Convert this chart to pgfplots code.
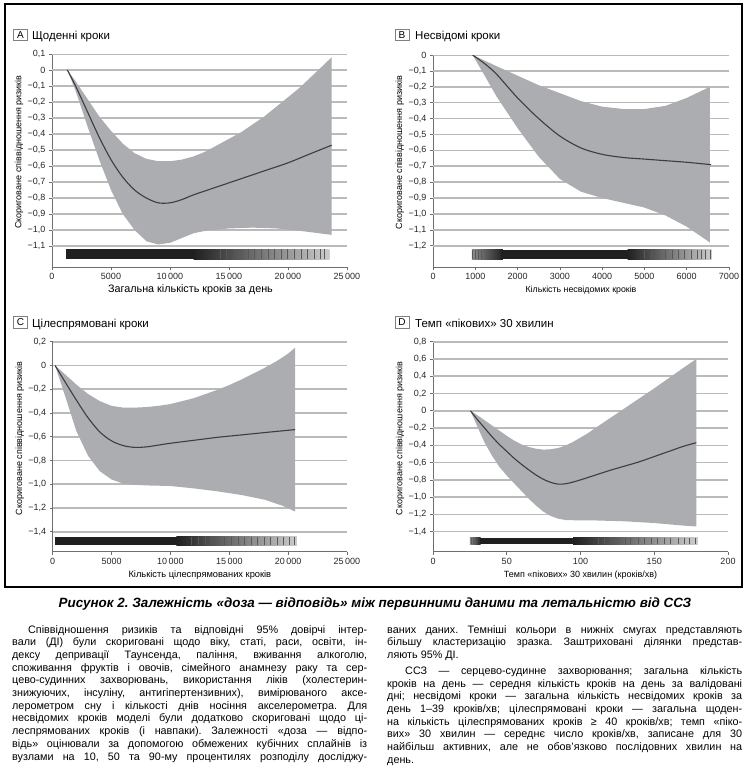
\documentclass[border=0pt]{standalone}
\usepackage{fontspec}
\setmainfont{Liberation Sans}
\usepackage{pgfplots}
\pgfplotsset{compat=1.18}

\definecolor{band}{RGB}{172,173,177}
\definecolor{cline}{RGB}{60,60,66}
\definecolor{axc}{RGB}{110,110,110}
\definecolor{rugdark}{RGB}{32,32,32}
\definecolor{rugmid}{RGB}{140,140,140}
\definecolor{ruglight}{RGB}{205,205,205}

\pgfplotsset{
  panel/.style={
    scale only axis,
    axis x line*=bottom, axis y line*=left,
    axis line style={axc, line width=0.8pt},
    tick style={axc, line width=0.6pt},
    major tick length=3pt, tick align=outside,
    scaled x ticks=false, scaled y ticks=false,
    tick label style={font=\fontsize{9}{10}\selectfont, text=black!85},
    label style={text=black!85},
    every axis y label/.style={at={(axis description cs:-0.112,0.54)}, rotate=90, anchor=center,
      font=\fontsize{9}{10}\selectfont},
    every axis x label/.style={at={(axis description cs:0.5,0)}, yshift=-23pt, anchor=center},
    ylabel={Скориговане співвідношення ризиків},
  },
  hgrid/.style={black!27, line width=1.6pt, mark=none, forget plot, unbounded coords=jump},
  ciband/.style={fill=band, draw=none, forget plot},
  rugfill/.style={draw=none, forget plot},
  stripes/.style={black!65, line width=0.5pt, forget plot, unbounded coords=jump},
}

\newcommand{\jl}[1]{\makebox[355pt][s]{#1}}

\begin{document}
\frenchspacing
\begin{tikzpicture}
\path[use as bounding box] (0,0) rectangle (750pt,-782pt);
\draw[line width=1.3pt] (5pt,-4pt) rectangle (742pt,-587pt);

% ---------------- A ----------------
\node[draw=gray, line width=0.6pt, minimum width=14pt, minimum height=11.5pt, inner sep=0pt,
  font=\fontsize{10}{10}\selectfont] at (20.5pt,-35pt) {A};
\node[anchor=base west, inner sep=0pt, font=\fontsize{11.5}{12}\selectfont] at (32pt,-39.5pt) {Щоденні кроки};
\begin{axis}[panel, at={(52pt,-267pt)}, anchor=south west, width=295pt, height=213pt,
  xmin=0, xmax=25000, ymin=-1.231, ymax=0.1,
  xtick={0,5000,10000,15000,20000,25000},
  xticklabels={0,5000,10\,000,15\,000,20\,000,25\,000},
  ytick={-1.1,-1,-0.9,-0.8,-0.7,-0.6,-0.5,-0.4,-0.3,-0.2,-0.1,0,0.1},
  yticklabels={{−1,1},{−1,0},{−0,9},{−0,8},{−0,7},{−0,6},{−0,5},{−0,4},{−0,3},{−0,2},{−0,1},{0},{0,1}},
  xlabel style={font=\fontsize{10.8}{12}\selectfont, xshift=-9pt},
  xlabel={Загальна кількість кроків за день}]
\addplot[hgrid] coordinates {
(0,0.1)(25000,0.1)(25000,nan) (0,0)(25000,0)(25000,nan) (0,-0.1)(25000,-0.1)(25000,nan)
(0,-0.2)(25000,-0.2)(25000,nan) (0,-0.3)(25000,-0.3)(25000,nan) (0,-0.4)(25000,-0.4)(25000,nan)
(0,-0.5)(25000,-0.5)(25000,nan) (0,-0.6)(25000,-0.6)(25000,nan) (0,-0.7)(25000,-0.7)(25000,nan)
(0,-0.8)(25000,-0.8)(25000,nan) (0,-0.9)(25000,-0.9)(25000,nan) (0,-1.0)(25000,-1.0)(25000,nan)
(0,-1.1)(25000,-1.1)};
% 95% CI band: upper bound, then lower bound reversed
\addplot[ciband] coordinates {
(1300,0)(2000,-0.07)(3000,-0.18)(4000,-0.29)(5000,-0.38)(6000,-0.46)(7000,-0.52)(8000,-0.555)
(9000,-0.57)(10000,-0.57)(11000,-0.56)(12000,-0.54)(13000,-0.51)(14000,-0.47)(15000,-0.43)
(16000,-0.39)(17000,-0.34)(18000,-0.29)(19000,-0.23)(20000,-0.17)(21000,-0.11)(22000,-0.04)
(23000,0.03)(23700,0.08)
(23700,-1.03)(21000,-1.005)(19000,-0.99)(17000,-0.985)(15000,-0.99)(13000,-1.005)(12000,-1.02)
(11000,-1.05)(10000,-1.08)(9000,-1.09)(8000,-1.07)(7000,-1.00)(6000,-0.90)(5000,-0.75)
(4000,-0.56)(3000,-0.35)(2000,-0.13)};
\addplot[cline, line width=1.1pt, smooth] coordinates {
(1300,0)(2000,-0.10)(3000,-0.26)(4000,-0.42)(5000,-0.56)(6000,-0.67)(7000,-0.75)(8000,-0.80)
(9000,-0.83)(10000,-0.83)(11000,-0.81)(12000,-0.78)(14000,-0.73)(16000,-0.68)(18000,-0.63)
(20000,-0.58)(22000,-0.52)(23700,-0.47)};
% rug
\addplot[rugfill, fill=rugdark] coordinates {(1200,-1.181)(12100,-1.181)(12100,-1.119)(1200,-1.119)};
\addplot[rugfill, left color=rugdark, right color=ruglight] coordinates {(12000,-1.181)(23500,-1.181)(23500,-1.119)(12000,-1.119)};
\addplot[stripes] coordinates {
(14300,-1.181)(14300,-1.119)(14300,nan) (14800,-1.181)(14800,-1.119)(14800,nan)
(15500,-1.181)(15500,-1.119)(15500,nan) (16000,-1.181)(16000,-1.119)(16000,nan)
(16600,-1.181)(16600,-1.119)(16600,nan) (17100,-1.181)(17100,-1.119)(17100,nan)
(17700,-1.181)(17700,-1.119)(17700,nan) (18300,-1.181)(18300,-1.119)(18300,nan)
(18800,-1.181)(18800,-1.119)(18800,nan) (19400,-1.181)(19400,-1.119)(19400,nan)
(19900,-1.181)(19900,-1.119)(19900,nan) (20500,-1.181)(20500,-1.119)(20500,nan)
(21100,-1.181)(21100,-1.119)(21100,nan) (21600,-1.181)(21600,-1.119)(21600,nan)
(22200,-1.181)(22200,-1.119)(22200,nan) (22700,-1.181)(22700,-1.119)(22700,nan)
(23100,-1.181)(23100,-1.119)};
\end{axis}

% ---------------- B ----------------
\node[draw=gray, line width=0.6pt, minimum width=14pt, minimum height=11.5pt, inner sep=0pt,
  font=\fontsize{10}{10}\selectfont] at (402pt,-35pt) {B};
\node[anchor=base west, inner sep=0pt, font=\fontsize{11.5}{12}\selectfont] at (415pt,-39.5pt) {Несвідомі кроки};
\begin{axis}[panel, at={(433pt,-267pt)}, anchor=south west, width=296pt, height=212pt,
  xmin=0, xmax=7000, ymin=-1.334, ymax=0,
  xtick={0,1000,2000,3000,4000,5000,6000,7000},
  xticklabels={0,1000,2000,3000,4000,5000,6000,7000},
  ytick={-1.2,-1.1,-1,-0.9,-0.8,-0.7,-0.6,-0.5,-0.4,-0.3,-0.2,-0.1,0},
  yticklabels={{−1,2},{−1,1},{−1,0},{−0,9},{−0,8},{−0,7},{−0,6},{−0,5},{−0,4},{−0,3},{−0,2},{−0,1},{0}},
  xlabel style={font=\fontsize{8.8}{10}\selectfont},
  xlabel={Кількість несвідомих кроків}]
\addplot[hgrid] coordinates {
(0,0)(7000,0)(7000,nan) (0,-0.1)(7000,-0.1)(7000,nan) (0,-0.2)(7000,-0.2)(7000,nan)
(0,-0.3)(7000,-0.3)(7000,nan) (0,-0.4)(7000,-0.4)(7000,nan) (0,-0.5)(7000,-0.5)(7000,nan)
(0,-0.6)(7000,-0.6)(7000,nan) (0,-0.7)(7000,-0.7)(7000,nan) (0,-0.8)(7000,-0.8)(7000,nan)
(0,-0.9)(7000,-0.9)(7000,nan) (0,-1.0)(7000,-1.0)(7000,nan) (0,-1.1)(7000,-1.1)(7000,nan)
(0,-1.2)(7000,-1.2)};
\addplot[ciband] coordinates {
(937,0)(1500,-0.07)(2000,-0.13)(2500,-0.19)(3000,-0.24)(3500,-0.29)(4000,-0.325)(4500,-0.34)
(5000,-0.34)(5500,-0.32)(6000,-0.27)(6550,-0.20)
(6550,-1.18)(6000,-1.08)(5500,-1.01)(5000,-0.96)(4500,-0.93)(4000,-0.90)(3500,-0.86)
(3000,-0.78)(2500,-0.64)(2000,-0.46)(1500,-0.26)(1200,-0.12)};
\addplot[cline, line width=1.1pt, smooth] coordinates {
(937,0)(1200,-0.05)(1500,-0.12)(2000,-0.27)(2500,-0.40)(3000,-0.51)(3500,-0.585)(4000,-0.625)
(4500,-0.645)(5000,-0.655)(5500,-0.665)(6000,-0.675)(6575,-0.69)};
% rug
\addplot[rugfill, left color=rugmid, right color=rugdark] coordinates {(921,-1.285)(1650,-1.285)(1650,-1.226)(921,-1.226)};
\addplot[rugfill, fill=rugdark] coordinates {(1600,-1.285)(4650,-1.285)(4650,-1.226)(1600,-1.226)};
\addplot[rugfill, left color=rugdark, right color=ruglight] coordinates {(4600,-1.285)(6590,-1.285)(6590,-1.226)(4600,-1.226)};
\addplot[stripes] coordinates {
(935,-1.285)(935,-1.226)(935,nan) (990,-1.285)(990,-1.226)(990,nan)
(1060,-1.285)(1060,-1.226)(1060,nan) (1150,-1.285)(1150,-1.226)(1150,nan)
(5000,-1.285)(5000,-1.226)(5000,nan) (5150,-1.285)(5150,-1.226)(5150,nan)
(5300,-1.285)(5300,-1.226)(5300,nan) (5500,-1.285)(5500,-1.226)(5500,nan)
(5650,-1.285)(5650,-1.226)(5650,nan) (5800,-1.285)(5800,-1.226)(5800,nan)
(5950,-1.285)(5950,-1.226)(5950,nan) (6100,-1.285)(6100,-1.226)(6100,nan)
(6250,-1.285)(6250,-1.226)(6250,nan) (6350,-1.285)(6350,-1.226)(6350,nan)
(6450,-1.285)(6450,-1.226)(6450,nan) (6550,-1.285)(6550,-1.226)};
\end{axis}

% ---------------- C ----------------
\node[draw=gray, line width=0.6pt, minimum width=14pt, minimum height=11.5pt, inner sep=0pt,
  font=\fontsize{10}{10}\selectfont] at (20.5pt,-322.5pt) {C};
\node[anchor=base west, inner sep=0pt, font=\fontsize{11.5}{12}\selectfont] at (32pt,-327pt) {Цілеспрямовані кроки};
\begin{axis}[panel, at={(52.7pt,-551.7pt)}, anchor=south west, width=294.3pt, height=210pt,
  xmin=0, xmax=25000, ymin=-1.568, ymax=0.2,
  xtick={0,5000,10000,15000,20000,25000},
  xticklabels={0,5000,10\,000,15\,000,20\,000,25\,000},
  ytick={-1.4,-1.2,-1,-0.8,-0.6,-0.4,-0.2,0,0.2},
  yticklabels={{−1,4},{−1,2},{−1,0},{−0,8},{−0,6},{−0,4},{−0,2},{0},{0,2}},
  xlabel style={font=\fontsize{9.3}{11}\selectfont},
  xlabel={Кількість цілеспрямованих кроків}]
\addplot[hgrid] coordinates {
(0,0.2)(25000,0.2)(25000,nan) (0,0)(25000,0)(25000,nan) (0,-0.2)(25000,-0.2)(25000,nan)
(0,-0.4)(25000,-0.4)(25000,nan) (0,-0.6)(25000,-0.6)(25000,nan) (0,-0.8)(25000,-0.8)(25000,nan)
(0,-1.0)(25000,-1.0)(25000,nan) (0,-1.2)(25000,-1.2)(25000,nan) (0,-1.4)(25000,-1.4)};
\addplot[ciband] coordinates {
(200,0)(1000,-0.07)(2000,-0.16)(3000,-0.24)(4000,-0.30)(5000,-0.34)(6000,-0.355)(7000,-0.355)
(8000,-0.35)(9000,-0.34)(10000,-0.325)(11000,-0.30)(12000,-0.275)(13000,-0.24)(14000,-0.205)
(15000,-0.165)(16000,-0.12)(17000,-0.07)(18000,-0.02)(19000,0.035)(20000,0.10)(20600,0.15)
(20600,-1.23)(19500,-1.18)(18000,-1.13)(16000,-1.09)(14000,-1.06)(12000,-1.035)(10000,-1.015)
(8000,-1.01)(7000,-1.005)(6000,-0.995)(5000,-0.96)(4000,-0.89)(3000,-0.76)(2000,-0.55)
(1000,-0.24)};
\addplot[cline, line width=1.1pt, smooth] coordinates {
(200,0)(1000,-0.13)(2000,-0.29)(3000,-0.44)(4000,-0.56)(5000,-0.635)(6000,-0.675)(7000,-0.69)
(8000,-0.685)(9000,-0.67)(10000,-0.655)(12000,-0.63)(14000,-0.605)(16000,-0.585)(18000,-0.565)
(20600,-0.54)};
% rug
\addplot[rugfill, fill=rugdark] coordinates {(200,-1.512)(10600,-1.512)(10600,-1.442)(200,-1.442)};
\addplot[rugfill, left color=rugdark, right color=ruglight] coordinates {(10500,-1.512)(20750,-1.512)(20750,-1.442)(10500,-1.442)};
\addplot[stripes] coordinates {
(11800,-1.512)(11800,-1.442)(11800,nan) (12400,-1.512)(12400,-1.442)(12400,nan)
(13000,-1.512)(13000,-1.442)(13000,nan) (13500,-1.512)(13500,-1.442)(13500,nan)
(14100,-1.512)(14100,-1.442)(14100,nan) (14600,-1.512)(14600,-1.442)(14600,nan)
(15200,-1.512)(15200,-1.442)(15200,nan) (15800,-1.512)(15800,-1.442)(15800,nan)
(16300,-1.512)(16300,-1.442)(16300,nan) (16900,-1.512)(16900,-1.442)(16900,nan)
(17400,-1.512)(17400,-1.442)(17400,nan) (18000,-1.512)(18000,-1.442)(18000,nan)
(18500,-1.512)(18500,-1.442)(18500,nan) (19100,-1.512)(19100,-1.442)(19100,nan)
(19600,-1.512)(19600,-1.442)(19600,nan) (20100,-1.512)(20100,-1.442)(20100,nan)
(20500,-1.512)(20500,-1.442)};
\end{axis}

% ---------------- D ----------------
\node[draw=gray, line width=0.6pt, minimum width=14pt, minimum height=11.5pt, inner sep=0pt,
  font=\fontsize{10}{10}\selectfont] at (402pt,-322.5pt) {D};
\node[anchor=base west, inner sep=0pt, font=\fontsize{11.5}{12}\selectfont] at (415pt,-327pt) {Темп «пікових» 30 хвилин};
\begin{axis}[panel, at={(433pt,-551.7pt)}, anchor=south west, width=295pt, height=210pt,
  xmin=0, xmax=200, ymin=-1.632, ymax=0.8,
  xtick={0,50,100,150,200},
  xticklabels={0,50,100,150,200},
  ytick={-1.4,-1.2,-1,-0.8,-0.6,-0.4,-0.2,0,0.2,0.4,0.6,0.8},
  yticklabels={{−1,4},{−1,2},{−1,0},{−0,8},{−0,6},{−0,4},{−0,2},{0},{0,2},{0,4},{0,6},{0,8}},
  xlabel style={font=\fontsize{9}{10}\selectfont},
  xlabel={Темп «пікових» 30 хвилин (кроків/хв)}]
\addplot[hgrid] coordinates {
(0,0.8)(200,0.8)(200,nan) (0,0.6)(200,0.6)(200,nan) (0,0.4)(200,0.4)(200,nan)
(0,0.2)(200,0.2)(200,nan) (0,0)(200,0)(200,nan) (0,-0.2)(200,-0.2)(200,nan)
(0,-0.4)(200,-0.4)(200,nan) (0,-0.6)(200,-0.6)(200,nan) (0,-0.8)(200,-0.8)(200,nan)
(0,-1.0)(200,-1.0)(200,nan) (0,-1.2)(200,-1.2)(200,nan) (0,-1.4)(200,-1.4)};
\addplot[ciband] coordinates {
(25.4,0)(30,-0.05)(35,-0.11)(40,-0.17)(45,-0.23)(50,-0.29)(55,-0.345)(60,-0.39)(65,-0.42)
(70,-0.44)(75,-0.45)(80,-0.445)(85,-0.43)(90,-0.40)(95,-0.36)(100,-0.31)(105,-0.26)(110,-0.20)
(120,-0.085)(130,0.03)(140,0.145)(150,0.26)(160,0.38)(170,0.50)(178.5,0.60)
(178.5,-1.34)(170,-1.33)(160,-1.315)(150,-1.30)(140,-1.29)(130,-1.28)(120,-1.275)(110,-1.27)
(100,-1.27)(90,-1.265)(85,-1.25)(80,-1.22)(75,-1.17)(70,-1.10)(65,-1.02)(60,-0.93)(55,-0.84)
(50,-0.75)(45,-0.65)(40,-0.52)(35,-0.37)(30,-0.18)};
\addplot[cline, line width=1.1pt, smooth] coordinates {
(25.4,0)(30,-0.1)(35,-0.2)(40,-0.3)(45,-0.39)(50,-0.47)(55,-0.55)(60,-0.62)(65,-0.685)
(70,-0.745)(75,-0.795)(80,-0.83)(85,-0.85)(90,-0.845)(95,-0.825)(100,-0.80)(110,-0.745)
(120,-0.69)(130,-0.64)(140,-0.59)(150,-0.53)(160,-0.47)(170,-0.41)(178.5,-0.37)};
% rug
\addplot[rugfill, left color=rugmid, right color=rugdark] coordinates {(25,-1.547)(32.3,-1.547)(32.3,-1.469)(25,-1.469)};
\addplot[rugfill, fill=rugdark] coordinates {(32,-1.547)(95.3,-1.547)(95.3,-1.469)(32,-1.469)};
\addplot[rugfill, left color=rugdark, right color=ruglight] coordinates {(95,-1.547)(179.5,-1.547)(179.5,-1.469)(95,-1.469)};
\addplot[stripes] coordinates {
(26,-1.547)(26,-1.469)(26,nan) (27.5,-1.547)(27.5,-1.469)(27.5,nan)
(112,-1.547)(112,-1.469)(112,nan) (116,-1.547)(116,-1.469)(116,nan)
(121,-1.547)(121,-1.469)(121,nan) (125,-1.547)(125,-1.469)(125,nan)
(130,-1.547)(130,-1.469)(130,nan) (134,-1.547)(134,-1.469)(134,nan)
(139,-1.547)(139,-1.469)(139,nan) (143,-1.547)(143,-1.469)(143,nan)
(148,-1.547)(148,-1.469)(148,nan) (152,-1.547)(152,-1.469)(152,nan)
(157,-1.547)(157,-1.469)(157,nan) (161,-1.547)(161,-1.469)(161,nan)
(166,-1.547)(166,-1.469)(166,nan) (170,-1.547)(170,-1.469)(170,nan)
(174,-1.547)(174,-1.469)(174,nan) (178,-1.547)(178,-1.469)};
\end{axis}

% ---------------- caption and notes ----------------
\node[anchor=base, inner sep=0pt, font=\fontsize{13.4}{15}\selectfont\bfseries\itshape]
  at (375pt,-607pt) {Рисунок 2. Залежність «доза — відповідь» між первинними даними та летальністю від ССЗ};

\node[anchor=north west, inner sep=0pt] at (12pt,-625pt) {\parbox{355pt}{\fontsize{10.8}{12.7}\selectfont
\jl{\hspace*{16pt}Співвідношення ризиків та відповідні 95\% довірчі інтер-}\\
\jl{вали (ДІ) були скориговані щодо віку, статі, раси, освіти, ін-}\\
\jl{дексу депривації Таунсенда, паління, вживання алкоголю,}\\
\jl{споживання фруктів і овочів, сімейного анамнезу раку та сер-}\\
\jl{цево-судинних захворювань, використання ліків (холестерин-}\\
\jl{знижуючих, інсуліну, антигіпертензивних), вимірюваного аксе-}\\
\jl{лерометром сну і кількості днів носіння акселерометра. Для}\\
\jl{несвідомих кроків моделі були додатково скориговані щодо ці-}\\
\jl{леспрямованих кроків (і навпаки). Залежності «доза — відпо-}\\
\jl{відь» оцінювали за допомогою обмежених кубічних сплайнів із}\\
\jl{вузлами на 10, 50 та 90-му процентилях розподілу досліджу-}}};

\node[anchor=north west, inner sep=0pt] at (387pt,-625pt) {\parbox{355pt}{\fontsize{10.8}{12.7}\selectfont
\jl{ваних даних. Темніші кольори в нижніх смугах представляють}\\
\jl{більшу кластеризацію зразка. Заштриховані ділянки представ-}\\
ляють 95\% ДІ.\\[3.3pt]
\jl{\hspace*{18pt}ССЗ — серцево-судинне захворювання; загальна кількість}\\
\jl{кроків на день — середня кількість кроків на день за валідовані}\\
\jl{дні; несвідомі кроки — загальна кількість несвідомих кроків за}\\
\jl{день 1–39 кроків/хв; цілеспрямовані кроки — загальна щоден-}\\
\jl{на кількість цілеспрямованих кроків ≥ 40 кроків/хв; темп «піко-}\\
\jl{вих» 30 хвилин — середнє число кроків/хв, записане для 30}\\
\jl{найбільш активних, але не обов’язково послідовних хвилин на}\\
день.}};
\end{tikzpicture}
\end{document}
